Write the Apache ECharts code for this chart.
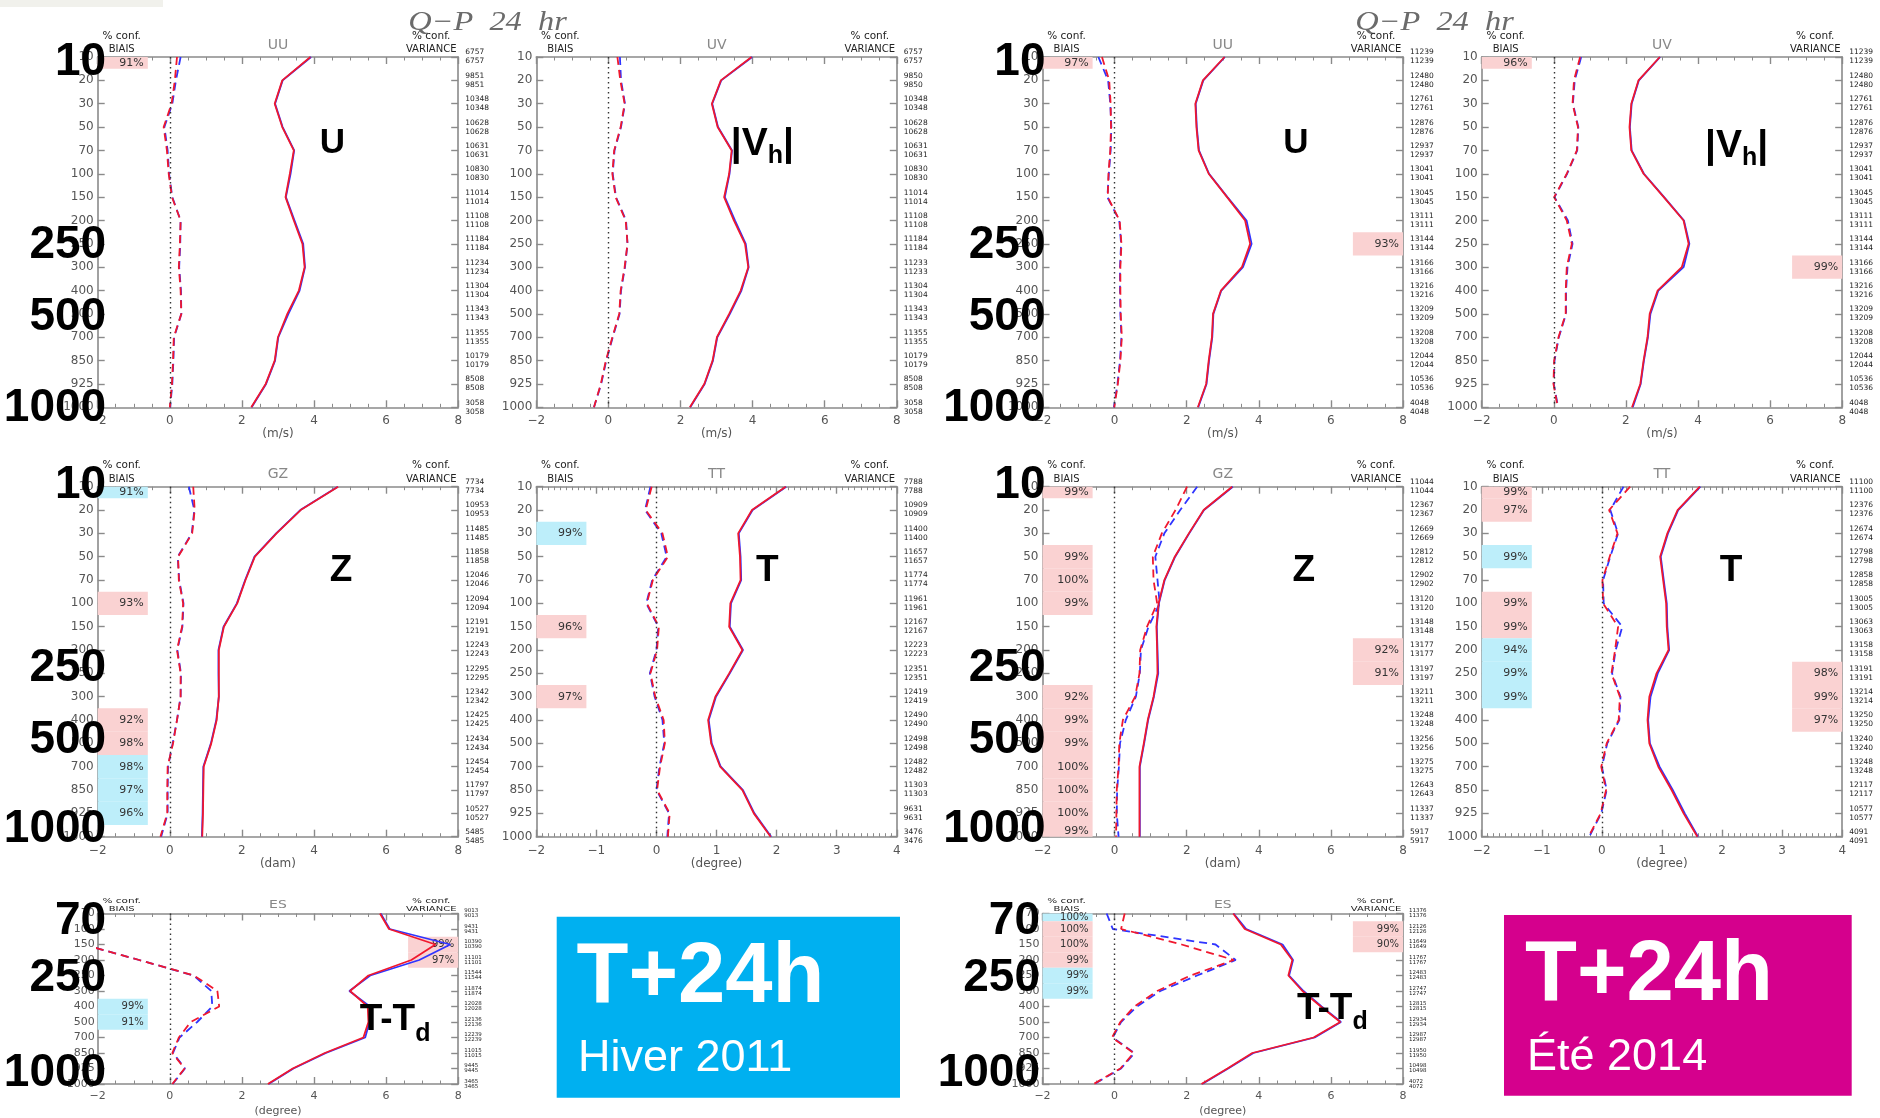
<!DOCTYPE html>
<html>
<head>
<meta charset="utf-8">
<title>Q−P 24 hr</title>
<script src="https://cdn.jsdelivr.net/npm/echarts@6.0.0/dist/echarts.min.js"></script>
<style>
  html, body { margin: 0; padding: 0; background: #ffffff; }
  #chart { width: 1880px; height: 1118px; }
</style>
</head>
<body>
<div id="chart"></div>
<script>
// ---------- pressure levels (hPa), used as the y tick labels ----------
const levels = [10, 20, 30, 50, 70, 100, 150, 200, 250, 300, 400, 500, 700, 850, 925, 1000];
const levelsEs = [70, 100, 150, 200, 250, 300, 400, 500, 700, 850, 925, 1000];

// x ranges: [min, max, major step]
const rangeWind = [-2, 8, 2];
const rangeTemp = [-2, 4, 1];

// big level marks written over the left axis
const bigLevels = [10, 250, 500, 1000];
const bigLevelsEs = [70, 250, 1000];

// ---------- UU, winter 2011 ----------
const uuWinterStdRed  = [3.90, 3.12, 2.91, 3.12, 3.44, 3.33, 3.21, 3.44, 3.68, 3.74, 3.58, 3.26, 3.00, 2.91, 2.66, 2.26];
const uuWinterStdBlue = [3.92, 3.13, 2.92, 3.13, 3.45, 3.35, 3.22, 3.46, 3.70, 3.75, 3.60, 3.29, 3.01, 2.92, 2.67, 2.27];
const uuWinterBiasRed  = [0.20, 0.14, 0.05, -0.17, -0.08, -0.03, 0.06, 0.30, 0.28, 0.25, 0.30, 0.32, 0.11, 0.09, 0.06, 0.00];
const uuWinterBiasBlue = [0.30, 0.17, 0.07, -0.15, -0.06, -0.02, 0.07, 0.30, 0.29, 0.26, 0.31, 0.32, 0.12, 0.10, 0.07, 0.01];
const uuWinterCounts = [6757, 9851, 10348, 10628, 10631, 10830, 11014, 11108, 11184, 11234, 11304, 11343, 11355, 10179, 8508, 3058];
// significance: [level, % confidence]; positive = red shading, negative = blue shading
const uuWinterBiasConf = [[10, 91]];
const uuWinterVarConf = [];

// ---------- UV, winter 2011 ----------
const uvWinterStdRed  = [3.97, 3.12, 2.87, 3.03, 3.42, 3.35, 3.21, 3.48, 3.79, 3.88, 3.67, 3.35, 3.01, 2.89, 2.66, 2.26];
const uvWinterStdBlue = [3.99, 3.13, 2.88, 3.04, 3.43, 3.36, 3.23, 3.51, 3.81, 3.89, 3.69, 3.37, 3.02, 2.90, 2.67, 2.27];
const uvWinterBiasRed  = [0.25, 0.33, 0.45, 0.34, 0.16, 0.11, 0.20, 0.48, 0.53, 0.45, 0.34, 0.30, 0.11, -0.07, -0.21, -0.40];
const uvWinterBiasBlue = [0.32, 0.35, 0.46, 0.35, 0.17, 0.12, 0.21, 0.49, 0.53, 0.46, 0.35, 0.31, 0.12, -0.06, -0.20, -0.40];
const uvWinterCounts = [6757, 9850, 10348, 10628, 10631, 10830, 11014, 11108, 11184, 11233, 11304, 11343, 11355, 10179, 8508, 3058];
const uvWinterBiasConf = [];
const uvWinterVarConf = [];

// ---------- UU, summer 2014 ----------
const uuSummerStdRed  = [3.05, 2.45, 2.24, 2.27, 2.33, 2.61, 3.12, 3.62, 3.76, 3.53, 2.95, 2.73, 2.70, 2.61, 2.54, 2.31];
const uuSummerStdBlue = [3.06, 2.46, 2.25, 2.28, 2.34, 2.62, 3.13, 3.66, 3.80, 3.56, 2.96, 2.74, 2.71, 2.62, 2.55, 2.32];
const uuSummerBiasRed  = [-0.35, -0.15, -0.11, -0.10, -0.12, -0.17, -0.19, 0.14, 0.19, 0.16, 0.16, 0.17, 0.20, 0.16, 0.09, -0.01];
const uuSummerBiasBlue = [-0.45, -0.18, -0.12, -0.09, -0.11, -0.16, -0.20, 0.13, 0.18, 0.15, 0.15, 0.16, 0.19, 0.15, 0.08, -0.02];
const uuSummerCounts = [11239, 12480, 12761, 12876, 12937, 13041, 13045, 13111, 13144, 13166, 13216, 13209, 13208, 12044, 10536, 4048];
const uuSummerBiasConf = [[10, 97]];
const uuSummerVarConf = [[250, 93]];

// ---------- UV, summer 2014 ----------
const uvSummerStdRed  = [2.94, 2.35, 2.15, 2.10, 2.15, 2.49, 3.05, 3.60, 3.74, 3.55, 2.88, 2.66, 2.60, 2.49, 2.40, 2.17];
const uvSummerStdBlue = [2.95, 2.36, 2.16, 2.11, 2.16, 2.50, 3.06, 3.61, 3.76, 3.60, 2.90, 2.68, 2.61, 2.50, 2.41, 2.19];
const uvSummerBiasRed  = [0.73, 0.56, 0.52, 0.67, 0.64, 0.36, 0.01, 0.36, 0.50, 0.36, 0.33, 0.33, 0.13, 0.01, -0.01, 0.11];
const uvSummerBiasBlue = [0.76, 0.58, 0.53, 0.68, 0.65, 0.37, 0.02, 0.39, 0.52, 0.38, 0.34, 0.34, 0.14, 0.02, 0.00, 0.12];
const uvSummerCounts = [11239, 12480, 12761, 12876, 12937, 13041, 13045, 13111, 13144, 13166, 13216, 13209, 13208, 12044, 10536, 4048];
const uvSummerBiasConf = [[10, 96]];
const uvSummerVarConf = [[300, 99]];

// ---------- GZ, winter 2011 ----------
const gzWinterStdRed  = [4.67, 3.63, 2.96, 2.36, 2.10, 1.87, 1.50, 1.36, 1.36, 1.36, 1.30, 1.15, 0.94, 0.93, 0.92, 0.90];
const gzWinterStdBlue = [4.66, 3.62, 2.95, 2.35, 2.09, 1.86, 1.49, 1.35, 1.35, 1.36, 1.29, 1.14, 0.93, 0.92, 0.91, 0.89];
const gzWinterBiasRed  = [0.65, 0.69, 0.62, 0.23, 0.25, 0.37, 0.34, 0.20, 0.30, 0.30, 0.20, 0.09, -0.06, -0.07, -0.07, -0.26];
const gzWinterBiasBlue = [0.53, 0.68, 0.61, 0.22, 0.26, 0.38, 0.35, 0.21, 0.31, 0.30, 0.20, 0.08, -0.05, -0.06, -0.06, -0.24];
const gzWinterCounts = [7734, 10953, 11485, 11858, 12046, 12094, 12191, 12243, 12295, 12342, 12425, 12434, 12454, 11797, 10527, 5485];
const gzWinterBiasConf = [[10, -91], [100, 93], [400, 92], [500, 98], [700, -98], [850, -97], [925, -96]];
const gzWinterVarConf = [];

// ---------- TT, winter 2011 ----------
const ttWinterStdRed  = [2.15, 1.59, 1.36, 1.39, 1.40, 1.23, 1.21, 1.43, 1.21, 0.98, 0.86, 0.91, 1.06, 1.43, 1.62, 1.90];
const ttWinterStdBlue = [2.16, 1.60, 1.37, 1.40, 1.41, 1.24, 1.22, 1.44, 1.22, 0.99, 0.87, 0.92, 1.07, 1.44, 1.63, 1.91];
const ttWinterBiasRed  = [-0.08, -0.18, 0.10, 0.19, -0.06, -0.16, 0.04, 0.01, -0.10, -0.02, 0.12, 0.14, 0.06, 0.01, 0.22, 0.19];
const ttWinterBiasBlue = [-0.10, -0.19, 0.08, 0.17, -0.07, -0.17, 0.03, 0.00, -0.11, -0.03, 0.10, 0.13, 0.05, 0.00, 0.21, 0.18];
const ttWinterCounts = [7788, 10909, 11400, 11657, 11774, 11961, 12167, 12223, 12351, 12419, 12490, 12498, 12482, 11303, 9631, 3476];
const ttWinterBiasConf = [[30, -99], [150, 96], [300, 97]];
const ttWinterVarConf = [];

// ---------- GZ, summer 2014 ----------
const gzSummerStdRed  = [3.26, 2.47, 2.06, 1.67, 1.38, 1.22, 1.16, 1.18, 1.19, 1.08, 0.92, 0.81, 0.69, 0.69, 0.69, 0.69];
const gzSummerStdBlue = [3.28, 2.48, 2.07, 1.68, 1.39, 1.23, 1.17, 1.19, 1.21, 1.09, 0.93, 0.82, 0.70, 0.70, 0.70, 0.70];
const gzSummerBiasRed  = [2.01, 1.69, 1.31, 1.06, 1.08, 1.18, 0.90, 0.71, 0.69, 0.57, 0.23, 0.13, 0.11, 0.06, 0.05, 0.04];
const gzSummerBiasBlue = [2.29, 1.82, 1.38, 1.13, 1.19, 1.25, 0.94, 0.73, 0.70, 0.59, 0.31, 0.15, 0.12, 0.07, 0.06, 0.11];
const gzSummerCounts = [11044, 12367, 12669, 12812, 12902, 13120, 13148, 13177, 13197, 13211, 13248, 13256, 13275, 12643, 11337, 5917];
const gzSummerBiasConf = [[10, 99], [50, 99], [70, 100], [100, 99], [300, 92], [400, 99], [500, 99], [700, 100], [850, 100], [925, 100], [1000, 99]];
const gzSummerVarConf = [[200, 92], [250, 91]];

// ---------- TT, summer 2014 ----------
const ttSummerStdRed  = [1.63, 1.26, 1.09, 0.97, 1.02, 1.07, 1.08, 1.11, 0.91, 0.79, 0.76, 0.79, 0.94, 1.16, 1.36, 1.59];
const ttSummerStdBlue = [1.64, 1.27, 1.10, 0.98, 1.03, 1.08, 1.09, 1.12, 0.93, 0.81, 0.77, 0.80, 0.96, 1.18, 1.38, 1.60];
const ttSummerBiasRed  = [0.47, 0.12, 0.26, 0.13, 0.01, 0.02, 0.27, 0.22, 0.16, 0.30, 0.28, 0.08, -0.01, 0.07, -0.02, -0.22];
const ttSummerBiasBlue = [0.36, 0.14, 0.27, 0.14, 0.02, 0.03, 0.34, 0.23, 0.17, 0.31, 0.29, 0.09, 0.00, 0.08, -0.01, -0.21];
const ttSummerCounts = [11100, 12376, 12674, 12798, 12858, 13005, 13063, 13158, 13191, 13214, 13250, 13240, 13248, 12117, 10577, 4091];
const ttSummerBiasConf = [[10, 99], [20, 97], [50, -99], [100, 99], [150, 99], [200, -94], [250, -99], [300, -99]];
const ttSummerVarConf = [[250, 98], [300, 99], [400, 97]];

// ---------- ES (T-Td), winter 2011 ----------
const esWinterStdRed  = [5.83, 6.08, 7.37, 6.70, 5.51, 5.00, 5.49, 5.51, 5.37, 4.30, 3.41, 2.72];
const esWinterStdBlue = [5.85, 6.10, 7.78, 6.92, 5.56, 4.98, 5.55, 5.54, 5.42, 4.33, 3.43, 2.74];
const esWinterBiasRed  = [null, null, -2.40, -0.85, 0.67, 1.32, 1.37, 0.58, 0.25, 0.07, 0.41, 0.07];
const esWinterBiasBlue = [null, null, -2.40, -0.85, 0.66, 1.15, 1.18, 0.76, 0.27, 0.09, 0.42, 0.08];
const esWinterCounts = [9013, 9431, 10390, 11101, 11544, 11874, 12028, 12136, 12239, 11015, 9445, 3465];
const esWinterBiasConf = [[400, -99], [500, -91]];
const esWinterVarConf = [[150, 99], [200, 97]];

// ---------- ES (T-Td), summer 2014 ----------
const esSummerStdRed  = [3.29, 3.61, 4.61, 4.93, 4.82, 5.21, 5.72, 6.26, 5.52, 3.82, 3.13, 2.41];
const esSummerStdBlue = [3.30, 3.65, 4.66, 4.95, 4.84, 5.24, 5.74, 6.28, 5.55, 3.85, 3.15, 2.43];
const esSummerBiasRed  = [0.28, 0.18, 1.86, 3.31, 2.11, 1.18, 0.55, 0.16, -0.07, 0.53, 0.16, -0.58];
const esSummerBiasBlue = [-0.22, -0.05, 2.80, 3.36, 2.29, 1.27, 0.62, 0.18, -0.05, 0.55, 0.18, -0.56];
const esSummerCounts = [11376, 12126, 11649, 11767, 12483, 12747, 12815, 12934, 12987, 11950, 10498, 4072];
const esSummerBiasConf = [[70, -100], [100, 100], [150, 100], [200, 99], [250, -99], [300, -99]];
const esSummerVarConf = [[100, 99], [150, 90]];

// ---------- variable tags: [text, font size, baseline drop] ----------
const tagU = [['U', 35, 0]];
const tagVh = [['|V', 39, 0], ['h', 25, 7], ['|', 39, 0]];
const tagZ = [['Z', 37, 0]];
const tagT = [['T', 37, 0]];
const tagTTd = [['T-T', 37, 0], ['d', 25, 10]];

// ---------- styling / layout ----------
const RED = '#f0182e';
const BLUE = '#2f34ff';
const PINK = '#fad2d2';
const CYAN = '#bdeefa';
const AXIS = '#8a8a8a';
const LABEL = '#555555';
const FONT = '"DejaVu Sans", sans-serif';
const BOLD = '"Liberation Sans", Arial, sans-serif';
const CONF_BOX_FRAC = 0.139;

const colLeft = [97.7, 536.3, 1042.5, 1481.7];
const rowTop = [57, 486.7, 913.5];
const rowHeight = [350.3, 350, 170.5];
const plotWidth = 360.5;

const panels = [
  { row: 0, col: 0, title: 'UU', unit: '(m/s)', lev: levels, range: rangeWind, minor: 4, counts: uuWinterCounts,
    stdRed: uuWinterStdRed, stdBlue: uuWinterStdBlue, biasRed: uuWinterBiasRed, biasBlue: uuWinterBiasBlue,
    biasConf: uuWinterBiasConf, varConf: uuWinterVarConf, tag: tagU, tagAt: [0.651, 0.244] },
  { row: 0, col: 1, title: 'UV', unit: '(m/s)', lev: levels, range: rangeWind, minor: 4, counts: uvWinterCounts,
    stdRed: uvWinterStdRed, stdBlue: uvWinterStdBlue, biasRed: uvWinterBiasRed, biasBlue: uvWinterBiasBlue,
    biasConf: uvWinterBiasConf, varConf: uvWinterVarConf, tag: tagVh, tagAt: [0.627, 0.248] },
  { row: 0, col: 2, title: 'UU', unit: '(m/s)', lev: levels, range: rangeWind, minor: 4, counts: uuSummerCounts,
    stdRed: uuSummerStdRed, stdBlue: uuSummerStdBlue, biasRed: uuSummerBiasRed, biasBlue: uuSummerBiasBlue,
    biasConf: uuSummerBiasConf, varConf: uuSummerVarConf, tag: tagU, tagAt: [0.703, 0.244] },
  { row: 0, col: 3, title: 'UV', unit: '(m/s)', lev: levels, range: rangeWind, minor: 4, counts: uvSummerCounts,
    stdRed: uvSummerStdRed, stdBlue: uvSummerStdBlue, biasRed: uvSummerBiasRed, biasBlue: uvSummerBiasBlue,
    biasConf: uvSummerBiasConf, varConf: uvSummerVarConf, tag: tagVh, tagAt: [0.707, 0.254] },
  { row: 1, col: 0, title: 'GZ', unit: '(dam)', lev: levels, range: rangeWind, minor: 4, counts: gzWinterCounts,
    stdRed: gzWinterStdRed, stdBlue: gzWinterStdBlue, biasRed: gzWinterBiasRed, biasBlue: gzWinterBiasBlue,
    biasConf: gzWinterBiasConf, varConf: gzWinterVarConf, tag: tagZ, tagAt: [0.675, 0.238] },
  { row: 1, col: 1, title: 'TT', unit: '(degree)', lev: levels, range: rangeTemp, minor: 10, counts: ttWinterCounts,
    stdRed: ttWinterStdRed, stdBlue: ttWinterStdBlue, biasRed: ttWinterBiasRed, biasBlue: ttWinterBiasBlue,
    biasConf: ttWinterBiasConf, varConf: ttWinterVarConf, tag: tagT, tagAt: [0.641, 0.238] },
  { row: 1, col: 2, title: 'GZ', unit: '(dam)', lev: levels, range: rangeWind, minor: 4, counts: gzSummerCounts,
    stdRed: gzSummerStdRed, stdBlue: gzSummerStdBlue, biasRed: gzSummerBiasRed, biasBlue: gzSummerBiasBlue,
    biasConf: gzSummerBiasConf, varConf: gzSummerVarConf, tag: tagZ, tagAt: [0.725, 0.238] },
  { row: 1, col: 3, title: 'TT', unit: '(degree)', lev: levels, range: rangeTemp, minor: 10, counts: ttSummerCounts,
    stdRed: ttSummerStdRed, stdBlue: ttSummerStdBlue, biasRed: ttSummerBiasRed, biasBlue: ttSummerBiasBlue,
    biasConf: ttSummerBiasConf, varConf: ttSummerVarConf, tag: tagT, tagAt: [0.692, 0.238] },
  { row: 2, col: 0, title: 'ES', unit: '(degree)', lev: levelsEs, range: rangeWind, minor: 4, counts: esWinterCounts,
    stdRed: esWinterStdRed, stdBlue: esWinterStdBlue, biasRed: esWinterBiasRed, biasBlue: esWinterBiasBlue,
    biasConf: esWinterBiasConf, varConf: esWinterVarConf, tag: tagTTd, tagAt: [0.825, 0.619] },
  { row: 2, col: 2, title: 'ES', unit: '(degree)', lev: levelsEs, range: rangeWind, minor: 4, counts: esSummerCounts,
    stdRed: esSummerStdRed, stdBlue: esSummerStdBlue, biasRed: esSummerBiasRed, biasBlue: esSummerBiasBlue,
    biasConf: esSummerBiasConf, varConf: esSummerVarConf, tag: tagTTd, tagAt: [0.804, 0.554] }
];

// ---------- helpers ----------
const fmtNum = v => (v < 0 ? '\u2212' + Math.abs(v) : String(v));

function lineData(vals) {
  const out = [];
  vals.forEach((v, i) => { if (v !== null) out.push([v, i]); });
  return out;
}

function confAreas(conf, lev, range, side) {
  const w = (range[1] - range[0]) * CONF_BOX_FRAC;
  const x0 = side === 'left' ? range[0] : range[1] - w;
  const x1 = side === 'left' ? range[0] + w : range[1];
  const last = lev.length - 1;
  return conf.map(([level, pct]) => {
    const i = lev.indexOf(level);
    return [
      { name: Math.abs(pct) + '%', xAxis: x0, yAxis: Math.max(i - 0.5, 0), itemStyle: { color: pct > 0 ? PINK : CYAN } },
      { xAxis: x1, yAxis: Math.min(i + 0.5, last) }
    ];
  });
}

// ---------- option ----------
const grids = [], xAxes = [], yAxes = [], series = [];

panels.forEach((p, k) => {
  const small = p.row === 2;
  const n = p.lev.length;
  grids.push({ left: colLeft[p.col], top: rowTop[p.row], width: plotWidth, height: rowHeight[p.row],
               containLabel: false, outerBoundsMode: 'none' });

  const axisLine = { show: true, onZero: false, lineStyle: { color: AXIS, width: 1.6 } };
  const axisTick = { show: true, inside: true, length: 7, lineStyle: { color: AXIS, width: 1.4 } };
  const minorTick = { show: true, splitNumber: p.minor, length: 3.5, lineStyle: { color: AXIS, width: 1 } };

  xAxes.push({
    gridIndex: k, type: 'value', position: 'bottom', min: p.range[0], max: p.range[1], interval: p.range[2],
    axisLine, axisTick, minorTick, splitLine: { show: false }, minorSplitLine: { show: false },
    axisLabel: { color: LABEL, fontFamily: FONT, fontSize: small ? 11 : 12, margin: small ? 7 : 8, formatter: fmtNum,
                 showMinLabel: true, showMaxLabel: true, hideOverlap: false },
    name: p.unit, nameLocation: 'middle', nameGap: small ? 22 : 21,
    nameTextStyle: { color: LABEL, fontFamily: FONT, fontSize: small ? 11 : 12, verticalAlign: 'top' }
  });
  xAxes.push({
    gridIndex: k, type: 'value', position: 'top', min: p.range[0], max: p.range[1], interval: p.range[2],
    axisLine, axisTick, minorTick, splitLine: { show: false }, minorSplitLine: { show: false },
    axisLabel: { show: false }
  });
  yAxes.push({
    gridIndex: k, type: 'value', position: 'left', inverse: true, min: 0, max: n - 1, interval: 1,
    axisLine, axisTick: { ...axisTick }, splitLine: { show: false },
    axisLabel: { color: LABEL, fontFamily: FONT, fontSize: small ? 11 : 12, margin: small ? 3 : 4, hideOverlap: false,
                 showMinLabel: true, showMaxLabel: true,
                 formatter: v => { const l = p.lev[Math.round(v)]; return l == null ? '' : String(l); } }
  });
  yAxes.push({
    gridIndex: k, type: 'value', position: 'right', inverse: true, min: 0, max: n - 1, interval: 1,
    axisLine, axisTick: { ...axisTick }, splitLine: { show: false },
    axisLabel: { color: '#222', fontFamily: FONT, fontSize: small ? 5.5 : 7.5, lineHeight: small ? 5 : 9,
                 margin: small ? 6 : 7, padding: small ? [0, 0, 3, 0] : [0, 0, 4, 0], hideOverlap: false,
                 showMinLabel: true, showMaxLabel: true,
                 formatter: v => { const c = p.counts[Math.round(v)]; return c == null ? '' : c + '\n' + c; } }
  });

  const base = { type: 'line', xAxisIndex: 2 * k, yAxisIndex: 2 * k, symbol: 'none', showSymbol: false,
                 clip: true, silent: true, animation: false, z: 2 };

  series.push({
    ...base, name: p.title + ' bias blue', data: lineData(p.biasBlue),
    lineStyle: { color: BLUE, width: 1.8, type: [8, 5] },
    markArea: {
      silent: true, animation: false,
      label: { show: true, position: 'insideRight', distance: 4, color: '#333', fontFamily: FONT,
               fontSize: small ? 10 : 11, formatter: '{b}' },
      data: confAreas(p.biasConf, p.lev, p.range, 'left').concat(confAreas(p.varConf, p.lev, p.range, 'right'))
    },
    markLine: {
      silent: true, animation: false, symbol: ['none', 'none'], label: { show: false },
      lineStyle: { color: '#333', type: [1.5, 3.5], width: 1.4 },
      data: [{ xAxis: 0 }]
    }
  });
  series.push({ ...base, name: p.title + ' bias red', data: lineData(p.biasRed),
                lineStyle: { color: RED, width: 1.8, type: [8, 5] } });
  series.push({ ...base, name: p.title + ' std blue', data: lineData(p.stdBlue),
                lineStyle: { color: BLUE, width: 1.8 } });
  series.push({ ...base, name: p.title + ' std red', data: lineData(p.stdRed),
                lineStyle: { color: RED, width: 1.8 } });
});

const option = {
  animation: false,
  backgroundColor: '#ffffff',
  grid: grids,
  xAxis: xAxes,
  yAxis: yAxes,
  series: series
};

const chart = echarts.init(document.getElementById('chart'), null, { renderer: 'canvas' });
chart.setOption(option);

// ---------- annotations ----------
const measureCtx = document.createElement('canvas').getContext('2d');
function measure(s, font) { measureCtx.font = font; return measureCtx.measureText(s).width; }

function text(x, y, s, font, fill, align, extra) {
  return Object.assign({
    type: 'text', x, y, z: 100, silent: true,
    style: { text: s, font, fill, align, textAlign: align, verticalAlign: 'middle', textVerticalAlign: 'middle' }
  }, extra || {});
}

const g = [];

// light strip at the top-left corner
g.push({ type: 'rect', z: 90, silent: true, shape: { x: 0, y: 0, width: 163, height: 7 }, style: { fill: '#f1f1ec' } });

// figure titles
[487.5, 1434.5].forEach(cx => {
  g.push(text(cx, 23, 'Q\u2212P  24  hr', 'italic 27px "Liberation Serif", serif', '#6b6b6b', 'center', { scaleX: 1.2 }));
});

panels.forEach((p, k) => {
  const L = colLeft[p.col], T = rowTop[p.row], H = rowHeight[p.row], R = L + plotWidth;
  const small = p.row === 2;
  const sy = small ? { scaleY: 0.72 } : {};
  const y1 = small ? T - 12.5 : T - 21;
  const y2 = small ? T - 4.5 : T - 7.5;
  const yT = small ? T - 8.5 : T - 12;
  g.push(text(L + 24, y1, '% conf.', '10.5px ' + FONT, '#222', 'center', sy));
  g.push(text(L + 24, y2, 'BIAIS', '10px ' + FONT, '#222', 'center', sy));
  g.push(text(R - 27, y1, '% conf.', '10.5px ' + FONT, '#222', 'center', sy));
  g.push(text(R - 27, y2, 'VARIANCE', '10px ' + FONT, '#222', 'center', sy));
  g.push(text((L + R) / 2, yT, p.title, '14px ' + FONT, '#888', 'center', sy));

  // bold variable tag
  const cx = L + p.tagAt[0] * plotWidth, cy = T + p.tagAt[1] * H;
  const mainSize = p.tag[0][1];
  const widths = p.tag.map(([s, size]) => measure(s, 'bold ' + size + 'px ' + BOLD));
  let x = cx - widths.reduce((a, b) => a + b, 0) / 2;
  const baseLine = cy + 0.358 * mainSize;
  p.tag.forEach(([s, size, drop], j) => {
    g.push(text(x, baseLine + drop - 0.347 * size, s, 'bold ' + size + 'px ' + BOLD, '#000', 'left'));
    x += widths[j];
  });

  // large level marks over the left axis
  if (p.col === 0 || p.col === 2) {
    const marks = small ? bigLevelsEs : bigLevels;
    const nudge = [[5, 1, 3, 1], [-1, -5, -3, -7], [8, 3, -11]][p.row];
    const dx = p.col === 0 ? 8.5 : (small ? -2.5 : 3);
    marks.forEach((lv, j) => {
      const py = chart.convertToPixel({ yAxisIndex: 2 * k }, p.lev.indexOf(lv));
      g.push(text(L + dx, py + nudge[j], String(lv), 'bold 46px ' + BOLD, '#000', 'right'));
    });
  }
});

// lead-time boxes
g.push({ type: 'rect', z: 90, silent: true, shape: { x: 556.7, y: 916.7, width: 343.3, height: 181 }, style: { fill: '#00b0f0' } });
g.push(text(576.5, 979, 'T+24h', 'bold 85px ' + BOLD, '#ffffff', 'left'));
g.push(text(578, 1059, 'Hiver 2011', '45px ' + BOLD, '#ffffff', 'left'));
g.push({ type: 'rect', z: 90, silent: true, shape: { x: 1504, y: 915, width: 347.7, height: 180.7 }, style: { fill: '#d5008d' } });
g.push(text(1525, 977, 'T+24h', 'bold 85px ' + BOLD, '#ffffff', 'left'));
g.push(text(1527, 1058, '\u00c9t\u00e9 2014', '45px ' + BOLD, '#ffffff', 'left'));

chart.setOption({ graphic: g });
</script>
</body>
</html>
